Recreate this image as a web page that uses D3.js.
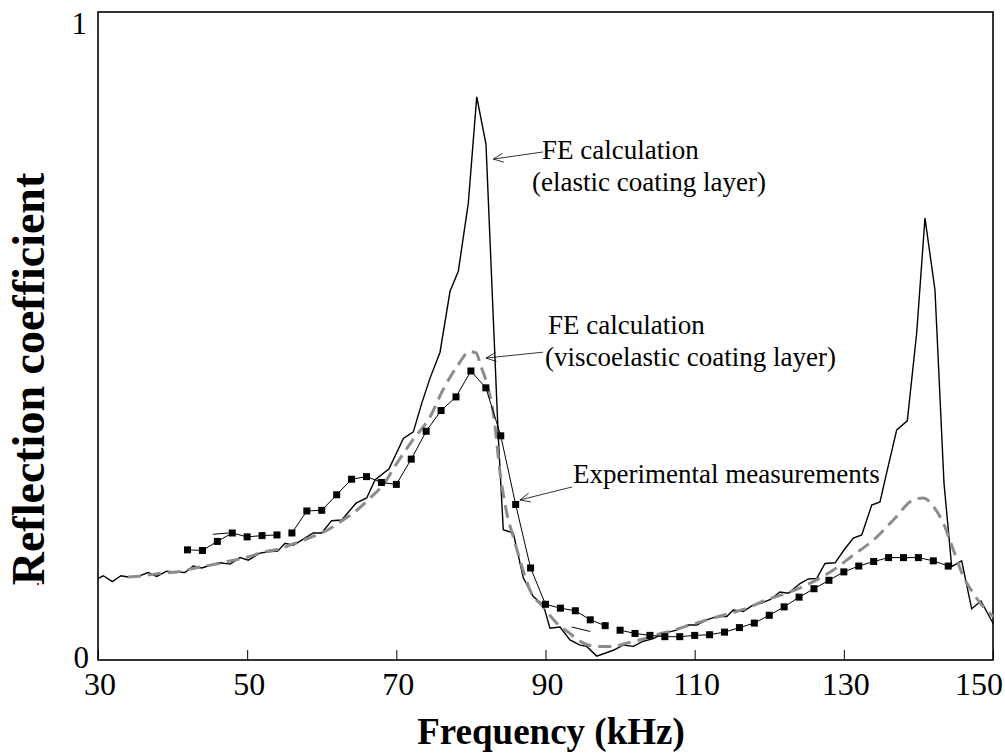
<!DOCTYPE html>
<html><head><meta charset="utf-8">
<script src="https://cdn.jsdelivr.net/npm/d3@7"></script>
<style>html,body{margin:0;padding:0;background:#fff;}svg{display:block;}text{font-family:"Liberation Serif","Times New Roman",serif;}</style>
</head><body>
<svg id="c" width="1005" height="754"></svg>
<script>
// ---- data ----
const xTicks = [30, 50, 70, 90, 110, 130, 150];
const yTicks = [0, 1];
const xTitle = "Frequency (kHz)";
const yTitle = "Reflection coefficient";

// FE calculation, elastic coating layer
const elasticFreq = [30.04,30.71,31.92,33.08,34.06,35.40,36.74,37.87,39.21,40.32,41.66,42.78,43.90,45.25,46.36,47.70,49.04,50.15,51.72,52.83,54.09,55.07,56.19,57.31,58.87,59.99,61.33,62.68,64.59,66.03,67.14,69.02,70.94,72.28,73.40,74.52,75.86,77.20,78.31,79.65,80.78,82.02,83.67,84.34,85.68,87.02,88.36,89.71,90.60,91.94,93.28,94.63,95.52,96.87,99.09,100.43,101.77,103.11,104.45,105.80,107.59,109.15,110.27,111.61,112.95,114.30,115.18,116.52,117.86,118.99,120.10,121.44,122.56,124.13,125.24,126.37,127.48,128.82,130.17,131.28,132.40,133.74,134.85,135.52,137.09,138.51,139.77,140.88,142.22,143.43,144.46,145.80,147.14,148.39,150.04];
const elasticVal = [0.126,0.130,0.121,0.130,0.128,0.129,0.135,0.129,0.137,0.136,0.135,0.145,0.142,0.147,0.150,0.148,0.158,0.154,0.165,0.167,0.168,0.180,0.177,0.185,0.196,0.196,0.215,0.216,0.242,0.250,0.278,0.295,0.342,0.352,0.396,0.435,0.475,0.569,0.600,0.705,0.869,0.796,0.344,0.201,0.196,0.127,0.098,0.085,0.049,0.051,0.031,0.023,0.021,0.006,0.015,0.023,0.021,0.029,0.033,0.041,0.046,0.054,0.054,0.062,0.067,0.067,0.077,0.075,0.085,0.088,0.093,0.105,0.103,0.118,0.125,0.126,0.149,0.150,0.172,0.188,0.193,0.239,0.244,0.278,0.355,0.369,0.505,0.682,0.571,0.273,0.144,0.153,0.079,0.091,0.056];

// FE calculation, viscoelastic coating layer
const viscoFreq = [34.02,36.70,38.58,41.26,43.01,45.29,47.43,50.11,51.99,54.13,56.41,58.69,60.84,62.85,64.69,66.47,68.21,70.09,72.24,74.51,76.26,78.09,79.87,80.68,81.35,82.15,83.10,83.90,84.80,85.68,86.58,87.92,89.67,91.50,93.28,95.07,96.87,99.09,100.89,102.67,104.91,107.14,109.37,111.61,113.84,116.52,119.66,122.79,125.91,128.59,131.27,133.95,136.63,139.32,140.66,142.00,143.34,144.68,146.02,147.36,148.70,150.04];
const viscoVal = [0.128,0.131,0.134,0.137,0.142,0.147,0.152,0.159,0.166,0.171,0.180,0.190,0.201,0.216,0.231,0.250,0.270,0.304,0.340,0.375,0.417,0.452,0.476,0.474,0.453,0.426,0.373,0.290,0.227,0.190,0.154,0.108,0.082,0.057,0.041,0.026,0.021,0.021,0.026,0.031,0.039,0.046,0.054,0.062,0.069,0.078,0.093,0.105,0.121,0.139,0.162,0.185,0.216,0.247,0.250,0.237,0.211,0.170,0.129,0.103,0.082,0.067];

// Experimental measurements
const expFreq = [42,44,46,48,50,52,54,56,58,60,62,64,66,68,70,72,74,76,78,80,82,84,86,88,90,92,94,96,98,100,102,104,106,108,110,112,114,116,118,120,122,124,126,128,130,132,134,136,138,140,142,144];
const expVal = [0.170,0.169,0.183,0.196,0.190,0.192,0.193,0.196,0.230,0.231,0.255,0.279,0.283,0.274,0.271,0.310,0.353,0.385,0.406,0.446,0.420,0.346,0.240,0.142,0.086,0.080,0.076,0.062,0.053,0.046,0.041,0.038,0.036,0.036,0.038,0.039,0.043,0.050,0.057,0.069,0.082,0.097,0.110,0.123,0.136,0.145,0.152,0.158,0.158,0.158,0.153,0.145];
const expSegments = [[42, 54], [56, 98], [100, 144]];        // connected runs
const expStray = [[45.4, 0.194, 47.5, 0.196], [93.5, 0.051, 96.0, 0.044]]; // loose line pieces

// annotations: text lines, arrow tail and tip (data units)
const annoLines = [
  ["FE calculation", "(elastic coating layer)"],
  ["FE calculation", "(viscoelastic coating layer)"],
  ["Experimental measurements"]
];
const annoTail = [[89.67, 0.784], [89.67, 0.475], [93.56, 0.267]];
const annoTip  = [[83.0, 0.773], [82.02, 0.466], [86.58, 0.247]];

// ---- drawing ----
const svg = d3.select("#c");
const L = 98, R = 993, T = 12, B = 660;
const x = d3.scaleLinear().domain([30, 150]).range([L, R]);
const y = d3.scaleLinear().domain([0, 1]).range([B, T]);

// frame
svg.append("rect").attr("x", L).attr("y", T).attr("width", R - L).attr("height", B - T)
  .attr("fill", "none").attr("stroke", "#000").attr("stroke-width", 1.6);

// x ticks (inside, upward)
const xAxis = d3.axisBottom(x).tickValues(xTicks).tickSizeInner(-10).tickSizeOuter(0).tickFormat("");
const gx = svg.append("g").attr("transform", `translate(0,${B})`).call(xAxis);
gx.select(".domain").remove();
gx.selectAll("line").attr("stroke", "#000").attr("stroke-width", 1);
svg.selectAll(".xl").data(xTicks).enter().append("text").attr("class", "xl")
  .attr("x", (d, i) => i === xTicks.length - 1 ? 1003 : x(d) + 2)
  .attr("y", 695)
  .attr("text-anchor", (d, i) => i === xTicks.length - 1 ? "end" : "middle")
  .attr("font-size", 32).text(d => d);

// y labels
svg.append("text").attr("x", 89).attr("y", 668).attr("text-anchor", "end").attr("font-size", 31).text(yTicks[0]);
svg.append("text").attr("x", 87).attr("y", 34).attr("text-anchor", "end").attr("font-size", 31).text(yTicks[1]);

// titles
svg.append("text").attr("x", 551).attr("y", 744).attr("text-anchor", "middle")
  .attr("font-size", 37).attr("font-weight", "bold").text(xTitle);
svg.append("text").attr("transform", "translate(44,379) rotate(-90)").attr("text-anchor", "middle")
  .attr("font-size", 46).attr("font-weight", "bold").text(yTitle);

const line = d3.line().x(d => x(d[0])).y(d => y(d[1]));

// elastic
svg.append("path").datum(elasticFreq.map((f, i) => [f, elasticVal[i]]))
  .attr("d", line).attr("fill", "none").attr("stroke", "#000").attr("stroke-width", 1.4);

// viscoelastic dashed
const smooth = d3.line().x(d => x(d[0])).y(d => y(d[1])).curve(d3.curveMonotoneX);
svg.append("path").datum(viscoFreq.map((f, i) => [f, viscoVal[i]]))
  .attr("d", smooth).attr("fill", "none").attr("stroke", "#8c8c8c")
  .attr("stroke-width", 3).attr("stroke-dasharray", "13,7");

// experimental
const expData = expFreq.map((f, i) => [f, expVal[i]]);
expSegments.forEach(([a, b]) => {
  svg.append("path").datum(expData.filter(d => d[0] >= a && d[0] <= b))
    .attr("d", line).attr("fill", "none").attr("stroke", "#000").attr("stroke-width", 1);
});
expStray.forEach(s => {
  svg.append("line").attr("x1", x(s[0])).attr("y1", y(s[1])).attr("x2", x(s[2])).attr("y2", y(s[3]))
    .attr("stroke", "#000").attr("stroke-width", 1);
});
svg.selectAll(".sq").data(expData).enter().append("rect").attr("class", "sq")
  .attr("x", d => x(d[0]) - 3.5).attr("y", d => y(d[1]) - 3.5).attr("width", 7).attr("height", 7).attr("fill", "#000");

// annotations
annoLines.forEach((lines, i) => {
  const [tf, tv] = annoTail[i], [pf, pv] = annoTip[i];
  const tx = x(tf), ty = y(tv), px = x(pf), py = y(pv);
  svg.append("line").attr("x1", tx).attr("y1", ty).attr("x2", px).attr("y2", py)
    .attr("stroke", "#000").attr("stroke-width", 0.8);
  const ang = Math.atan2(py - ty, px - tx);
  const hl = 11, ha = 0.42;
  const w1 = [px - hl * Math.cos(ang - ha), py - hl * Math.sin(ang - ha)];
  const w2 = [px - hl * Math.cos(ang + ha), py - hl * Math.sin(ang + ha)];
  svg.append("path").attr("d", `M${w1[0]},${w1[1]}L${px},${py}L${w2[0]},${w2[1]}`)
    .attr("fill", "none").attr("stroke", "#000").attr("stroke-width", 0.8);
});
const annoPos = [[[542, 159], [532, 191]], [[548, 334], [545, 366]], [[573, 483]]];
annoLines.forEach((lines, i) => {
  lines.forEach((t, j) => {
    svg.append("text").attr("x", annoPos[i][j][0]).attr("y", annoPos[i][j][1])
      .attr("font-size", 27).text(t);
  });
});

// stray red dot
svg.append("rect").attr("x", 37).attr("y", 583).attr("width", 2).attr("height", 2).attr("fill", "#e00000");
</script>
</body></html>
